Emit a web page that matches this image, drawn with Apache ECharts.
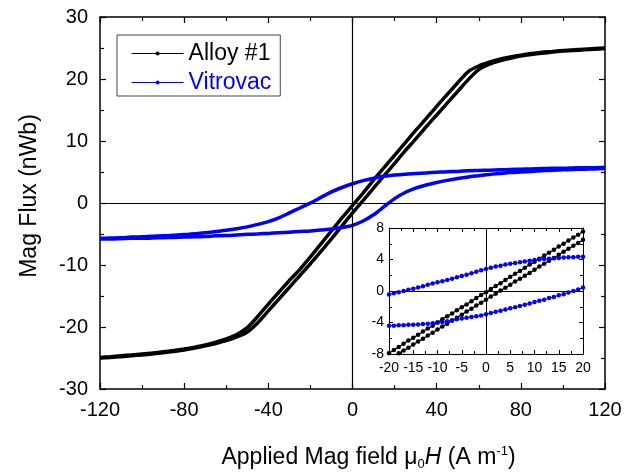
<!DOCTYPE html>
<html>
<head>
<meta charset="utf-8">
<script src="https://cdn.jsdelivr.net/npm/echarts@6/dist/echarts.min.js"></script>
<style>
  html, body { margin: 0; padding: 0; background: #fff; }
  #chart { width: 625px; height: 474px; }
</style>
</head>
<body>
<div id="chart"></div>
<script>
// field values (main plot), A/m
const fieldMain = [-120, -115, -110, -105, -100, -95, -90, -85, -80, -75, -70, -65, -60, -55, -50, -45, -40, -35, -30, -25, -20, -15, -10, -5,
  0, 5, 10, 15, 20, 25, 30, 35, 40, 45, 50, 55, 60, 65, 70, 75, 80, 85, 90, 95, 100, 105, 110, 115, 120];

// Alloy #1, descending and ascending branches (nWb)
const alloyDesc = [-24.9, -24.8, -24.65, -24.5, -24.35, -24.2, -24.0, -23.8, -23.55, -23.25, -22.9, -22.45, -21.9, -21.2, -20.1, -18.3, -16.3, -14.4, -12.5, -10.7, -8.7, -6.6, -4.5, -2.4,
  -0.4, 1.6, 3.7, 5.7, 7.7, 9.7, 11.7, 13.6, 15.6, 17.5, 19.4, 21.2, 22.1, 22.7, 23.2, 23.55, 23.85, 24.1, 24.3, 24.45, 24.6, 24.7, 24.8, 24.9, 25.0];
const alloyAsc = [-25.0, -24.9, -24.8, -24.65, -24.5, -24.35, -24.15, -23.95, -23.7, -23.4, -23.05, -22.65, -22.2, -21.6, -20.8, -19.3, -17.4, -15.5, -13.6, -11.7, -9.8, -7.8, -5.8, -3.7,
  -1.6, 0.4, 2.4, 4.4, 6.4, 8.4, 10.3, 12.3, 14.2, 16.1, 18.0, 19.9, 21.5, 22.4, 22.95, 23.35, 23.7, 23.95, 24.15, 24.35, 24.5, 24.6, 24.7, 24.8, 24.9];

// Vitrovac, descending and ascending branches (nWb)
const vitroDesc = [-5.7, -5.65, -5.6, -5.5, -5.45, -5.35, -5.3, -5.2, -5.1, -4.95, -4.8, -4.6, -4.4, -4.15, -3.85, -3.45, -3.0, -2.4, -1.6, -0.8, 0.0, 0.9, 1.8, 2.5,
  3.1, 3.6, 4.0, 4.3, 4.5, 4.65, 4.75, 4.85, 4.95, 5.05, 5.1, 5.2, 5.25, 5.3, 5.35, 5.4, 5.45, 5.5, 5.55, 5.6, 5.6, 5.65, 5.7, 5.7, 5.75];
const vitroAsc = [-5.8, -5.8, -5.75, -5.7, -5.7, -5.65, -5.6, -5.55, -5.5, -5.45, -5.4, -5.3, -5.25, -5.15, -5.05, -5.0, -4.9, -4.8, -4.7, -4.6, -4.5, -4.35, -4.2, -3.95,
  -3.6, -2.9, -1.9, -0.6, 0.7, 1.7, 2.4, 2.9, 3.3, 3.65, 3.95, 4.2, 4.4, 4.6, 4.75, 4.9, 5.0, 5.1, 5.2, 5.3, 5.35, 5.4, 5.45, 5.5, 5.55];

// inset (zoom around zero field)
const fieldInset = [-20, -19, -18, -17, -16, -15, -14, -13, -12, -11, -10, -9, -8, -7, -6, -5, -4, -3, -2, -1,
  0, 1, 2, 3, 4, 5, 6, 7, 8, 9, 10, 11, 12, 13, 14, 15, 16, 17, 18, 19, 20];
const alloyDescInset = [-7.9, -7.5, -7.1, -6.7, -6.3, -5.95, -5.55, -5.15, -4.75, -4.4, -4.0, -3.6, -3.2, -2.85, -2.45, -2.05, -1.7, -1.3, -0.9, -0.5,
  -0.15, 0.25, 0.65, 1.0, 1.4, 1.8, 2.2, 2.55, 2.95, 3.35, 3.7, 4.1, 4.5, 4.85, 5.25, 5.65, 6.0, 6.4, 6.8, 7.15, 7.55];
const alloyAscInset = [-8.7, -8.3, -7.9, -7.55, -7.2, -6.8, -6.4, -6.05, -5.65, -5.3, -4.9, -4.5, -4.15, -3.75, -3.4, -3.0, -2.6, -2.25, -1.85, -1.5,
  -1.1, -0.7, -0.35, 0.05, 0.4, 0.8, 1.2, 1.55, 1.95, 2.3, 2.7, 3.1, 3.45, 3.85, 4.2, 4.6, 5.0, 5.35, 5.75, 6.1, 6.5];
const vitroDescInset = [-0.45, -0.3, -0.15, 0.0, 0.15, 0.3, 0.45, 0.6, 0.8, 0.95, 1.1, 1.25, 1.4, 1.55, 1.75, 1.9, 2.05, 2.25, 2.45, 2.65,
  2.8, 2.95, 3.1, 3.2, 3.35, 3.45, 3.55, 3.65, 3.75, 3.85, 3.95, 4.0, 4.05, 4.1, 4.15, 4.2, 4.25, 4.3, 4.3, 4.35, 4.35];
const vitroAscInset = [-4.4, -4.4, -4.35, -4.35, -4.3, -4.3, -4.25, -4.2, -4.15, -4.1, -4.0, -3.95, -3.85, -3.75, -3.6, -3.5, -3.4, -3.3, -3.2, -3.1,
  -2.95, -2.8, -2.65, -2.5, -2.35, -2.2, -2.05, -1.9, -1.75, -1.6, -1.4, -1.25, -1.1, -0.9, -0.75, -0.55, -0.4, -0.2, 0.0, 0.2, 0.45];

const BLACK = "#000000";
const BLUE = "#0000ff";
const FONT = "Liberation Sans, Arial, sans-serif";

const pairs = (xs, ys) => xs.map((x, i) => [x, ys[i]]);

const frameAxis = (extra) => Object.assign({
  type: "value",
  axisLine: { show: true, onZero: false, lineStyle: { color: BLACK, width: 1.5 } },
  axisTick: { show: true, inside: true, length: 6, lineStyle: { color: BLACK, width: 1.2 } },
  minorTick: { show: true, splitNumber: 2, length: 4, lineStyle: { color: BLACK, width: 1.2 } },
  splitLine: { show: false },
  axisLabel: { show: false },
}, extra);

const insetAxis = (extra) => Object.assign({
  type: "value",
  axisLine: { show: true, onZero: false, lineStyle: { color: BLACK, width: 1 } },
  axisTick: { show: true, inside: true, length: 4, lineStyle: { color: BLACK, width: 1 } },
  minorTick: { show: true, splitNumber: 2, length: 3, lineStyle: { color: BLACK, width: 1 } },
  splitLine: { show: false },
  axisLabel: { show: false },
}, extra);

const zeroLines = {
  silent: true,
  symbol: "none",
  label: { show: false },
  lineStyle: { color: BLACK, width: 1.2, type: "solid" },
  data: [{ xAxis: 0 }, { yAxis: 0 }],
};

const chart = echarts.init(document.getElementById("chart"), null, { renderer: "canvas" });

const option = {
  animation: false,
  backgroundColor: "#fff",
  textStyle: { fontFamily: FONT, color: BLACK },
  legend: {
    left: 117,
    top: 35,
    orient: "vertical",
    itemWidth: 52,
    itemHeight: 5,
    itemGap: 6,
    padding: [7, 9, 2, 14],
    borderColor: "#444",
    borderWidth: 1,
    lineStyle: { width: 1.2 },
    textStyle: { fontSize: 23, fontFamily: FONT, lineHeight: 23 },
    data: [
      { name: "Alloy #1", textStyle: { color: BLACK } },
      { name: "Vitrovac", textStyle: { color: BLUE } },
    ],
  },
  grid: [
    { left: 100, right: 20, top: 17, bottom: 85, containLabel: false, outerBoundsMode: "none" },
    {
      left: 389, top: 228, width: 194, height: 126, containLabel: false, outerBoundsMode: "none",
      show: true, backgroundColor: "#fff", borderWidth: 0, z: 5,
    },
  ],
  xAxis: [
    frameAxis({
      gridIndex: 0, min: -120, max: 120, interval: 40, position: "bottom",
      axisLabel: { show: true, fontSize: 20, color: BLACK, margin: 11, fontFamily: FONT },
      name: "{t|Applied Mag field }{g|\u03bc}{s|0}{i|H}{t| (A m}{p|-1}{t|)}",
      nameLocation: "middle",
      nameGap: 56,
      nameTextStyle: {
        fontSize: 23,
        color: BLACK,
        padding: [0, 0, 0, 32],
        rich: {
          t: { fontSize: 23, fontFamily: FONT, color: BLACK, lineHeight: 26 },
          g: { fontSize: 23, fontFamily: FONT, color: BLACK, lineHeight: 26 },
          i: { fontSize: 23, fontFamily: FONT, fontStyle: "italic", color: BLACK, lineHeight: 26 },
          s: { fontSize: 13, fontFamily: FONT, color: BLACK, verticalAlign: "bottom", lineHeight: 26 },
          p: { fontSize: 13, fontFamily: FONT, color: BLACK, verticalAlign: "top", lineHeight: 26 },
        },
      },
    }),
    frameAxis({ gridIndex: 0, min: -120, max: 120, interval: 40, position: "top" }),
    insetAxis({
      gridIndex: 1, min: -20, max: 20, interval: 5, position: "bottom", z: 6,
      axisLabel: { show: true, fontSize: 14, color: BLACK, margin: 7, fontFamily: FONT },
    }),
    insetAxis({ gridIndex: 1, min: -20, max: 20, interval: 5, position: "top", z: 6 }),
  ],
  yAxis: [
    frameAxis({
      gridIndex: 0, min: -30, max: 30, interval: 10, position: "left",
      axisLabel: { show: true, fontSize: 20, color: BLACK, margin: 12, fontFamily: FONT },
      name: "Mag Flux (nWb)",
      nameLocation: "middle",
      nameGap: 59,
      nameTextStyle: { fontSize: 23, color: BLACK, fontFamily: FONT, padding: [0, 0, 0, 14] },
    }),
    frameAxis({ gridIndex: 0, min: -30, max: 30, interval: 10, position: "right" }),
    insetAxis({
      gridIndex: 1, min: -8, max: 8, interval: 4, position: "left", z: 6,
      axisLabel: { show: true, fontSize: 14, color: BLACK, margin: 5, fontFamily: FONT },
    }),
    insetAxis({ gridIndex: 1, min: -8, max: 8, interval: 4, position: "right", z: 6 }),
  ],
  series: [
    {
      name: "Alloy #1", type: "line", xAxisIndex: 0, yAxisIndex: 0,
      data: pairs(fieldMain, alloyDesc), smooth: 0.2,
      symbol: "circle", symbolSize: 4, showSymbol: false,
      itemStyle: { color: BLACK }, lineStyle: { color: BLACK, width: 3.5 },
      markLine: zeroLines,
    },
    {
      name: "Alloy #1", type: "line", xAxisIndex: 0, yAxisIndex: 0,
      data: pairs(fieldMain, alloyAsc), smooth: 0.2,
      symbol: "circle", symbolSize: 4, showSymbol: false,
      itemStyle: { color: BLACK }, lineStyle: { color: BLACK, width: 3.5 },
    },
    {
      name: "Vitrovac", type: "line", xAxisIndex: 0, yAxisIndex: 0,
      data: pairs(fieldMain, vitroDesc), smooth: 0.3,
      symbol: "circle", symbolSize: 4, showSymbol: false,
      itemStyle: { color: BLUE }, lineStyle: { color: BLUE, width: 3.5 },
    },
    {
      name: "Vitrovac", type: "line", xAxisIndex: 0, yAxisIndex: 0,
      data: pairs(fieldMain, vitroAsc), smooth: 0.3,
      symbol: "circle", symbolSize: 4, showSymbol: false,
      itemStyle: { color: BLUE }, lineStyle: { color: BLUE, width: 3.5 },
    },
    {
      name: "Alloy #1", type: "line", xAxisIndex: 2, yAxisIndex: 2, z: 7,
      data: pairs(fieldInset, alloyDescInset),
      symbol: "circle", symbolSize: 4.5, showSymbol: true,
      itemStyle: { color: BLACK }, lineStyle: { color: BLACK, width: 1.2 },
      markLine: Object.assign({}, zeroLines, { lineStyle: { color: BLACK, width: 1, type: "solid" } }),
    },
    {
      name: "Alloy #1", type: "line", xAxisIndex: 2, yAxisIndex: 2, z: 7,
      data: pairs(fieldInset, alloyAscInset),
      symbol: "circle", symbolSize: 4.5, showSymbol: true,
      itemStyle: { color: BLACK }, lineStyle: { color: BLACK, width: 1.2 },
    },
    {
      name: "Vitrovac", type: "line", xAxisIndex: 2, yAxisIndex: 2, z: 7,
      data: pairs(fieldInset, vitroDescInset),
      symbol: "circle", symbolSize: 4.5, showSymbol: true,
      itemStyle: { color: BLUE }, lineStyle: { color: BLUE, width: 1 },
    },
    {
      name: "Vitrovac", type: "line", xAxisIndex: 2, yAxisIndex: 2, z: 7,
      data: pairs(fieldInset, vitroAscInset),
      symbol: "circle", symbolSize: 4.5, showSymbol: true,
      itemStyle: { color: BLUE }, lineStyle: { color: BLUE, width: 1 },
    },
  ],
};

chart.setOption(option);
window.addEventListener("resize", () => chart.resize());
</script>
</body>
</html>
